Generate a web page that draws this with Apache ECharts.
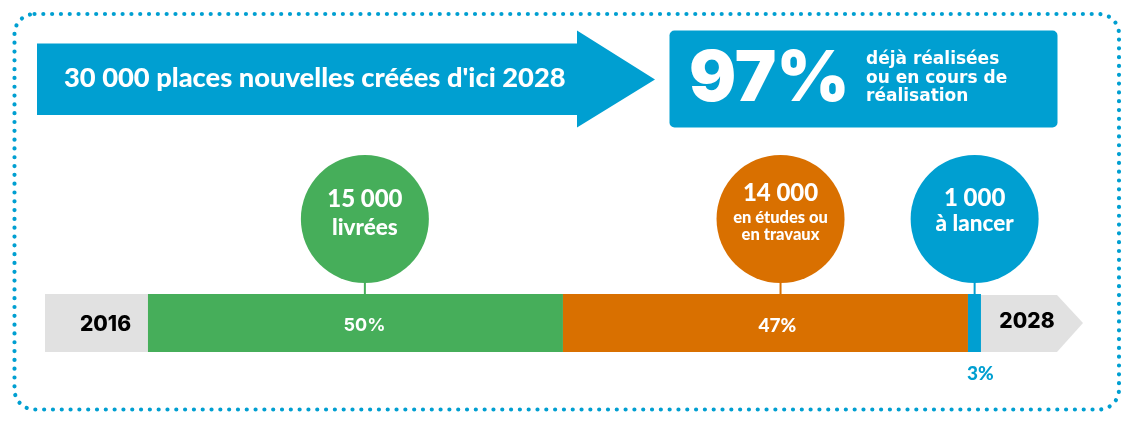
<!DOCTYPE html>
<html>
<head>
<meta charset="utf-8">
<script src="https://cdn.jsdelivr.net/npm/echarts@6/dist/echarts.min.js"></script>
<style>html,body{margin:0;padding:0;background:#fff}#F{width:1140px;height:436px}</style>
</head>
<body>
<div id="F"></div>
<script>
var headline = "30 000 places nouvelles créées d'ici 2028";
var doneShare = '97%';
var doneText = ['déjà réalisées', 'ou en cours de', 'réalisation'];

var years = ['2016', '2028'];
var leadLength = 12.36;
var tailLength = 12.25;
var segmentLengths = [49.82, 48.62, 1.56];
var segmentShares = ['50%', '47%', '3%'];
var bubbleAt = [38.4, 88.3, 111.6];
var bubbleCounts = ['15 000', '14 000', '1 000'];
var bubbleText = [['livrées'], ['en études ou', 'en travaux'], ['à lancer']];

var BLUE = '#009fd1', GREEN = '#46ae5a', ORANGE = '#d97000', GREY = '#e1e1e1';
var colors = [GREEN, ORANGE, BLUE];
var ROUND = 'Lato, sans-serif', SANS = 'Inter, sans-serif', WIDE = '"DejaVu Sans", sans-serif';

var myChart = echarts.init(document.getElementById('F'));

var total = leadLength + tailLength;
segmentLengths.forEach(function (v) { total += v; });

function barSerie(name, value, color, label) {
    return {
        name: name, type: 'bar', stack: 'frise', data: [value],
        barWidth: '100%', silent: true,
        itemStyle: {color: color},
        label: label
    };
}

function renderBubble(params, api) {
    var i = params.dataIndex;
    var c = api.coord([api.value(0), 0]);
    var cy = c[1] - 104;
    var children = [
        {type: 'rect', shape: {x: c[0] - 1, y: cy + 60, width: 2, height: 15}, style: {fill: colors[i]}},
        {type: 'circle', shape: {cx: c[0], cy: cy, r: 64}, style: {fill: colors[i]}}
    ];
    var small = bubbleText[i].length > 1;
    // la ligne du chiffre et celle du texte ne sont pas au meme niveau d'une bulle a l'autre
    var countY = [-20, -26, -21][i], textY = [9, -1, 5][i];
    children.push({type: 'text', style: {
        text: bubbleCounts[i], x: c[0], y: cy + countY,
        align: 'center', verticalAlign: 'middle', fill: '#fff',
        font: '900 24px ' + ROUND
    }});
    bubbleText[i].forEach(function (t, k) {
        children.push({type: 'text', style: {
            text: t, x: c[0], y: cy + textY + k * 17,
            align: 'center', verticalAlign: 'middle', fill: '#fff',
            font: small ? '900 16.5px ' + ROUND : '900 22.5px ' + ROUND
        }});
    });
    return {type: 'group', children: children};
}

function renderTail(params, api) {
    var start = api.coord([api.value(0), 0]);
    var end = api.coord([api.value(1), 0]);
    var h = api.size([0, 1])[1];
    var top = start[1] - h / 2 + 1, bottom = start[1] + h / 2;
    return {type: 'group', children: [
        {type: 'polygon', shape: {points: [
            [start[0], top], [end[0] - 26, top], [end[0], start[1]],
            [end[0] - 26, bottom], [start[0], bottom]
        ]}, style: {fill: GREY}},
        {type: 'text', style: {
            text: years[1], x: start[0] + 46, y: start[1] - 1,
            align: 'center', verticalAlign: 'middle', fill: '#000',
            font: '800 21px ' + SANS
        }}
    ]};
}

let option = {
    backgroundColor: '#fff',
    animation: false,
    grid: {left: 45, top: 294, width: 1038, height: 58},
    xAxis: {type: 'value', min: 0, max: total, show: false},
    yAxis: {type: 'category', data: ['frise'], show: false},
    series: [
        barSerie('2016', leadLength, GREY, {
            show: true, formatter: years[0], position: 'inside', offset: [9, 2],
            color: '#000', fontFamily: SANS, fontWeight: 800, fontSize: 21
        }),
        barSerie('livrées', segmentLengths[0], GREEN, {
            show: true, formatter: segmentShares[0], position: 'inside', offset: [9, 3],
            color: '#fff', fontFamily: SANS, fontWeight: 700, fontSize: 18
        }),
        barSerie('études', segmentLengths[1], ORANGE, {
            show: true, formatter: segmentShares[1], position: 'inside', offset: [12, 3],
            color: '#fff', fontFamily: ROUND, fontWeight: 900, fontSize: 19
        }),
        barSerie('à lancer', segmentLengths[2], BLUE, {
            show: true, formatter: segmentShares[2], position: 'bottom', distance: 12, offset: [6, 0],
            color: BLUE, fontFamily: ROUND, fontWeight: 900, fontSize: 19
        }),
        {
            type: 'custom', silent: true, renderItem: renderBubble,
            data: bubbleAt.map(function (v) { return [v, 0]; }),
            encode: {x: 0, y: 1}, z: 3
        },
        {
            type: 'custom', silent: true, renderItem: renderTail,
            data: [[total - tailLength, total]],
            encode: {x: [0, 1]}, z: 1
        }
    ],
    graphic: [
        {type: 'rect', shape: {x: 14.5, y: 14, width: 1104.5, height: 395.5, r: 20},
            style: {fill: null, stroke: BLUE, lineWidth: 4.2, lineDash: [0.01, 8.8], lineCap: 'round'}, silent: true},
        {type: 'polygon', shape: {points: [[37, 43.5], [577, 43.5], [577, 30.5], [655, 79.5], [577, 127.5], [577, 115], [37, 115]]},
            style: {fill: BLUE}, silent: true},
        {type: 'text', style: {text: headline, x: 64, y: 78, verticalAlign: 'middle', fill: '#fff', font: '900 27.3px ' + ROUND}, silent: true},
        {type: 'rect', shape: {x: 669.5, y: 30.5, width: 388, height: 97, r: 5}, style: {fill: BLUE}, silent: true},
        {type: 'text', style: {text: doneShare, x: 689, y: 80, verticalAlign: 'middle', fill: '#fff', font: '900 70px ' + SANS}, silent: true},
        {type: 'text', style: {text: doneText[0], x: 866, y: 60, verticalAlign: 'middle', fill: '#fff', font: '700 17px ' + WIDE}, silent: true},
        {type: 'text', style: {text: doneText[1], x: 866, y: 78.5, verticalAlign: 'middle', fill: '#fff', font: '700 17px ' + WIDE}, silent: true},
        {type: 'text', style: {text: doneText[2], x: 866, y: 97, verticalAlign: 'middle', fill: '#fff', font: '700 17px ' + WIDE}, silent: true}
    ]
};
myChart.setOption(option);
</script>
</body>
</html>
